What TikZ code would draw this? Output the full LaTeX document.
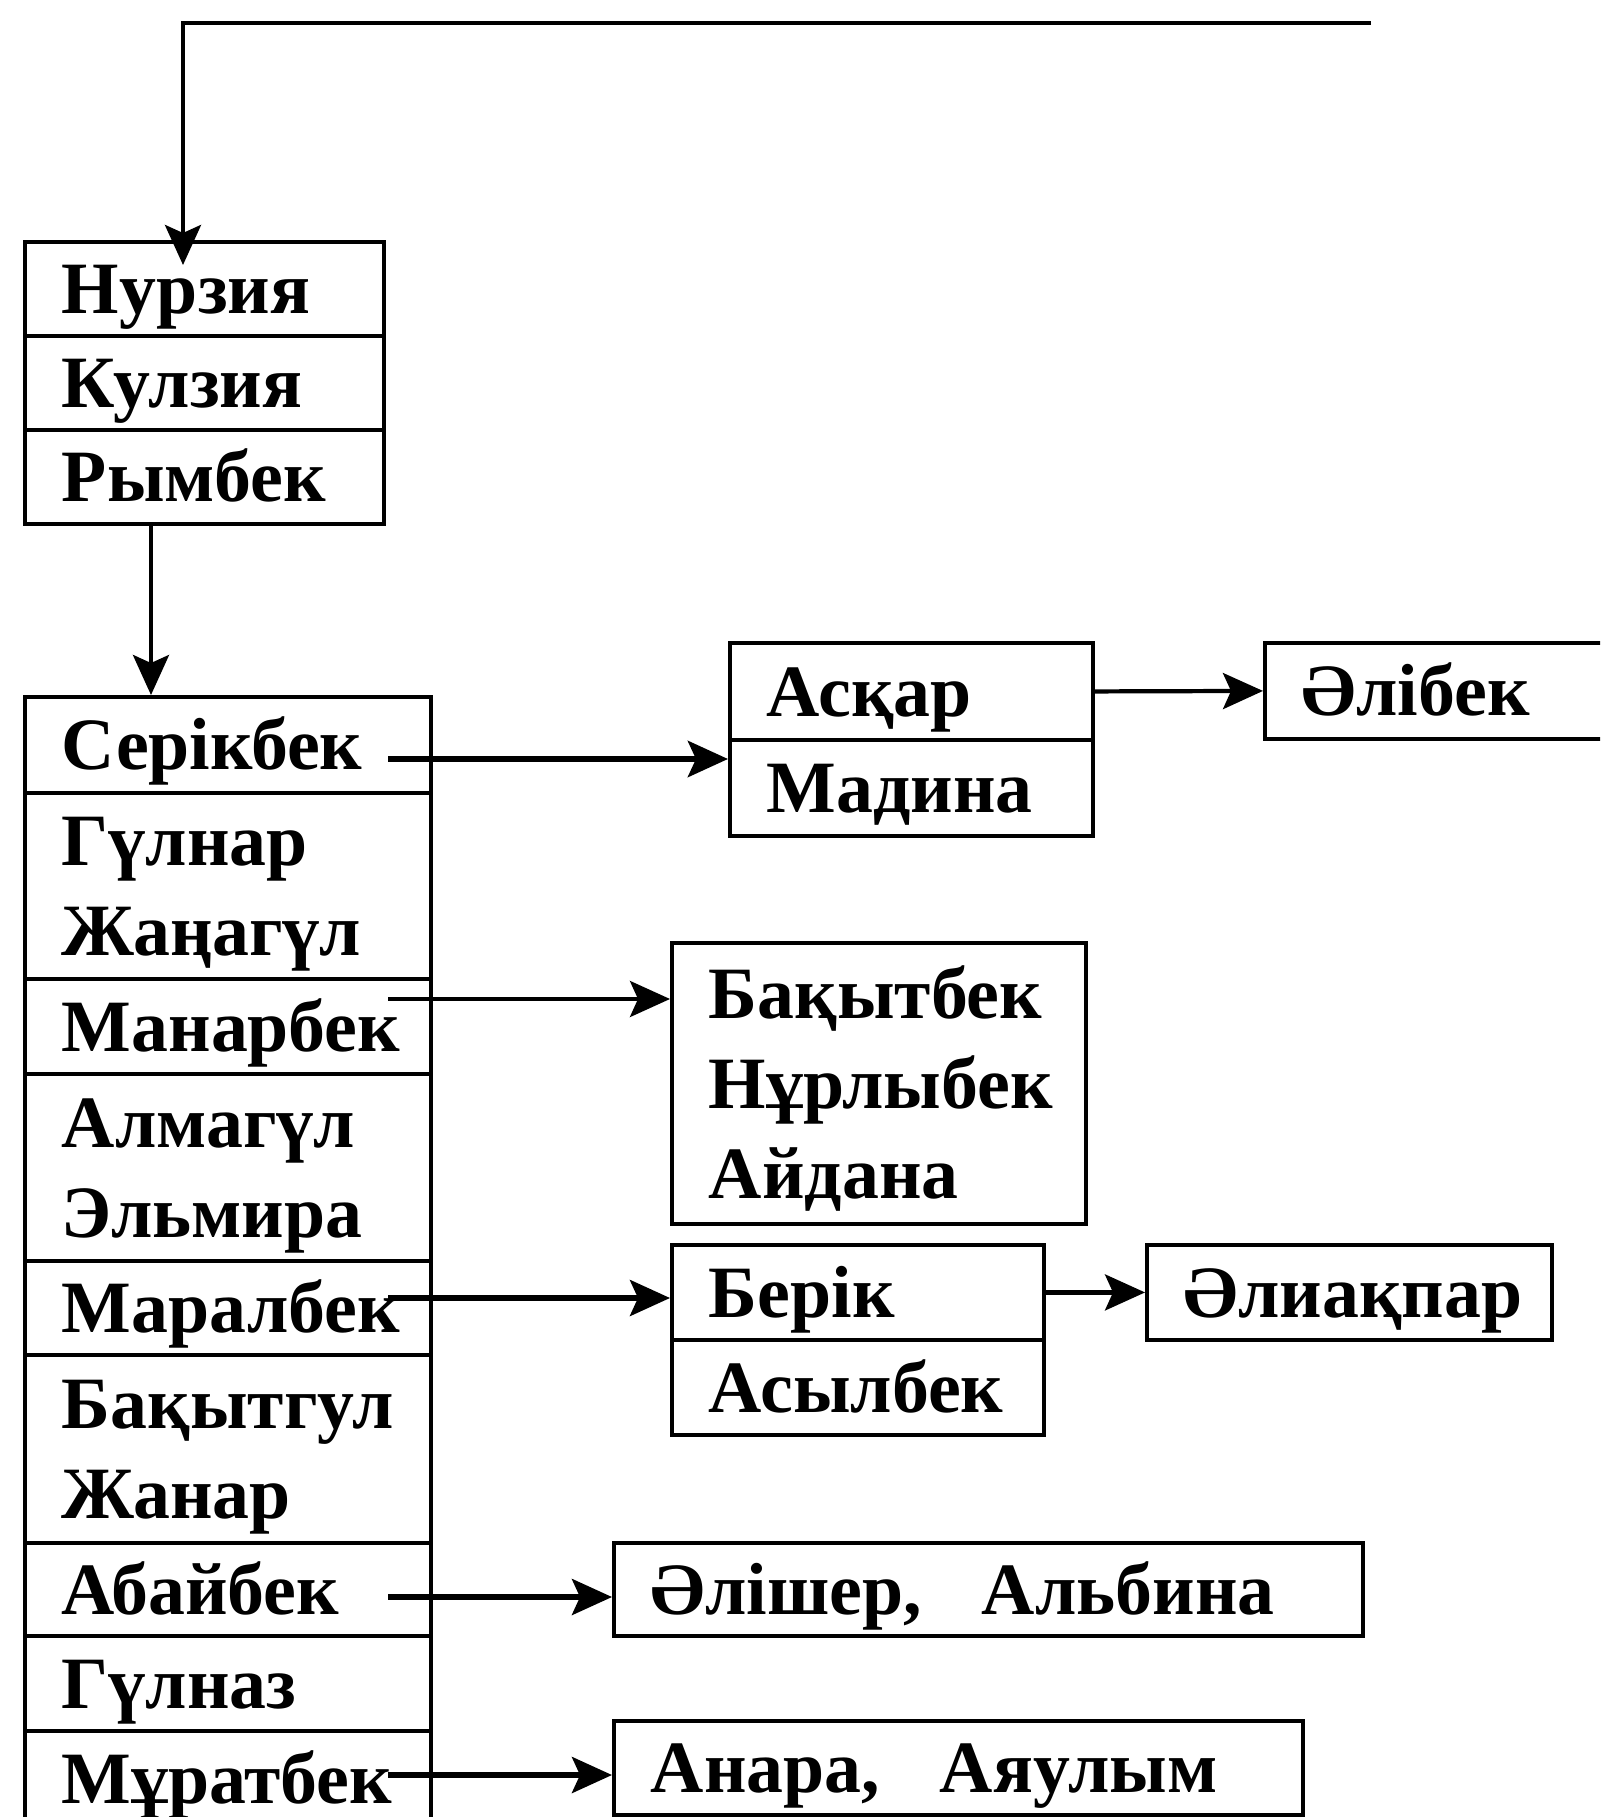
\documentclass[tikz,border=0pt]{standalone}
\usepackage{fontspec}
\setmainfont{Liberation Serif}
\usepackage{tikz}
\usetikzlibrary{arrows.meta,positioning}
\tikzset{
  gcell/.style={draw=black,line width=1.1pt,anchor=north west,align=flush left,inner xsep=3.7mm,inner ysep=0pt,text height=14pt,text depth=0pt},
  garr/.style={-{Stealth[length=4mm,width=3.6mm,inset=0.8mm]},line width=1.2pt,draw=black}
}
\begin{document}
\begin{tikzpicture}[font=\fontsize{21}{25.6}\selectfont\bfseries]
  \useasboundingbox (0,0) rectangle (16,-18.17);
  \clip (0,0) rectangle (16,-18.17);
  \foreach \y/\txt/\nm in {-2.40/Нурзия/nur,-3.34/Кулзия/kul,-4.28/Рымбек/rym}{
    \node[gcell,text width=2.85cm,minimum height=0.94cm] (\nm) at (0.23,\y) {\txt};
  }
  \foreach \y/\hh/\dd/\txt/\nm in {-6.95/0.96/0pt/Серікбек/ser,-7.91/1.86/25.6pt/{Гүлнар\\Жаңагүл}/gul,
      -9.77/0.95/0pt/Манарбек/man,-10.72/1.87/25.6pt/{Алмагүл\\Эльмира}/alm,-12.59/0.94/0pt/Маралбек/mar,
      -13.53/1.88/25.6pt/{Бақытгул\\Жанар}/bak,-15.41/0.93/0pt/Абайбек/aba,-16.34/0.95/0pt/Гүлназ/gln,
      -17.29/0.96/0pt/Мұратбек/mur}{
    \node[gcell,text width=3.32cm,minimum height=\hh*1cm,text depth=\dd] (\nm) at (0.23,\y) {\txt};
  }
  \node[gcell,text width=2.89cm,minimum height=0.97cm] (ask) at (7.28,-6.41) {Асқар};
  \node[gcell,text width=2.89cm,minimum height=0.96cm] (mad) at (7.28,-7.38) {Мадина};
  \node[gcell,text width=3.03cm,minimum height=0.96cm] (alb) at (12.63,-6.41) {Әлібек};
  \node[gcell,text width=3.40cm,minimum height=2.81cm,text depth=51.2pt] (bkt) at (6.70,-9.41) {Бақытбек\\Нұрлыбек\\Айдана};
  \node[gcell,text width=2.98cm,minimum height=0.95cm] (ber) at (6.70,-12.43) {Берік};
  \node[gcell,text width=2.98cm,minimum height=0.95cm] (asl) at (6.70,-13.38) {Асылбек};
  \node[gcell,text width=3.31cm,minimum height=0.95cm] (alq) at (11.45,-12.43) {Әлиақпар};
  \node[gcell,text width=6.75cm,minimum height=0.93cm] (alsh) at (6.12,-15.41) {Әлішер,\hspace{6mm}Альбина};
  \node[gcell,text width=6.15cm,minimum height=0.94cm] (ana) at (6.12,-17.19) {Анара,\hspace{6mm}Аяулым};
  \coordinate (top) at (13.71,-0.23);
  \draw[garr,shorten >=-2.5mm] (top) -| ([xshift=16mm]nur.north west);
  \draw[garr] ([xshift=12.8mm]rym.south west) -- ([xshift=12.8mm]ser.north west);
  \foreach \y/\nm/\lw in {-7.59/mad/1.8pt,-9.99/bkt/1.1pt,-12.98/ber/1.5pt,-15.97/alsh/1.5pt,-17.75/ana/1.5pt}{
    \coordinate (s) at (3.88,\y);
    \draw[garr,line width=\lw] (s) -- (s -| \nm.west);
  }
  \draw[garr] (ask.east) -- (alb.west);
  \draw[garr] (ber.east) -- (alq.west);
\end{tikzpicture}
\end{document}
